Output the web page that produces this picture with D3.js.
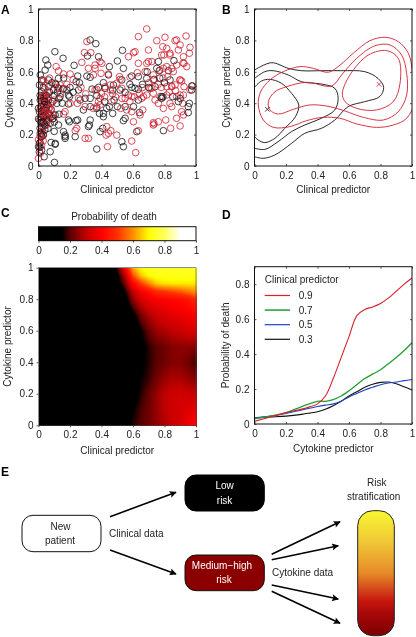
<!DOCTYPE html>
<html><head><meta charset="utf-8">
<script src="https://cdn.jsdelivr.net/npm/d3@7"></script>
<style>
html,body{margin:0;padding:0;background:#fff}
svg{display:block;filter:blur(0.3px)}
text{font-family:"Liberation Sans",Arial,sans-serif;font-size:10px;fill:#222}
.domain{display:none}
</style></head><body><svg id="c" width="416" height="637"></svg>
<script>
const tickVals=[0,0.2,0.4,0.6,0.8,1];
const tickValsD=[0,0.2,0.4,0.6,0.8];
const labelClinical="Clinical predictor", labelCytokine="Cytokine predictor", labelDeath="Probability of death";
const blackPts=[[.328,.803],[.364,.779],[.104,.728],[.156,.686],[.047,.675],[.059,.643],[.042,.611],[.381,.696],[.311,.701],[.533,.737],[.501,.669],[.226,.641],[.011,.58],[.021,.548],[.006,.516],[.063,.548],[.127,.558],[.249,.573],[.239,.537],[.307,.573],[.328,.565],[.45,.633],[.539,.622],[.412,.531],[.476,.516],[.444,.58],[.529,.548],[.592,.573],[.634,.569],[.687,.558],[.761,.665],[.751,.622],[.86,.671],[.767,.607],[.825,.607],[.835,.548],[.734,.552],[.74,.505],[.634,.488],[.592,.501],[.613,.495],[.471,.484],[.518,.484],[.423,.495],[.381,.501],[.18,.484],[.19,.452],[.197,.442],[.127,.495],[.137,.442],[.063,.505],[.095,.484],[.254,.484],[.328,.431],[.296,.431],[.264,.42],[.328,.378],[.285,.357],[.37,.367],[.387,.335],[.433,.367],[.471,.335],[.45,.378],[.501,.378],[.55,.378],[.603,.378],[.634,.42],[.641,.34],[.782,.431],[.782,.442],[.852,.442],[.888,.41],[.958,.399],[.973,.484],[.951,.378],[.973,.51],[.951,.34],[.19,.395],[.197,.282],[.19,.293],[.249,.293],[.239,.289],[.328,.293],[.323,.261],[.317,.251],[.55,.304],[.539,.289],[.412,.335],[.412,.314],[.408,.24],[.391,.219],[.37,.108],[.529,.155],[.539,.123],[.624,.219],[.793,.225],[.169,.197],[.169,.176],[.169,.187],[.233,.187],[.106,.144],[.106,.138],[.074,.091],[.036,.059],[.101,.023],[0,.123],[.006,.144],[.011,.208],[.021,.251],[.011,.293],[.015,.314],[.021,.346],[.032,.325],[.006,.346],[0,.367],[.042,.357],[.015,.272],[.021,.208],[.063,.335],[.074,.272],[.127,.261],[.106,.325],[.116,.399],[.063,.42],[.159,.219],[.032,.431],[.021,.473],[.011,.42],[.01,.15],[.02,.1],[.005,.09],[.03,.2],[.045,.32],[.03,.36],[.02,.33],[.05,.29],[.04,.26],[.08,.36],[.09,.3],[.1,.45],[.12,.47],[.03,.5],[.05,.45],[.01,.24],[0,.3],[.03,.31],[.015,.38],[.035,.39],[.1,.22],[.08,.15],[.01,.45],[.155,.49],[.085,.53],[.06,.39],[.05,.37],[.09,.41],[.13,.43],[.15,.4],[.07,.47],[.11,.52],[.16,.56],[.2,.5],[.22,.47],[.26,.53],[.34,.49],[.37,.45],[.42,.41],[.48,.42],[.55,.47],[.58,.52],[.66,.52],[.7,.5],[.77,.56],[.8,.53],[.9,.43],[.79,.44],[.69,.6],[.02,.28],[.04,.23],[.02,.19],[.01,.12],[.06,.24],[.1,.28],[.13,.33],[.04,.41],[.03,.28]];
const redPts=[[.687,.873],[.634,.824],[.937,.828],[.803,.82],[.751,.798],[.867,.798],[.307,.792],[.292,.722],[.332,.722],[.613,.728],[.603,.722],[.698,.739],[.899,.771],[.962,.756],[.958,.718],[.888,.739],[.571,.696],[.275,.66],[.789,.76],[.814,.749],[.835,.707],[.782,.707],[.698,.665],[.687,.654],[.719,.665],[.634,.654],[.391,.665],[.402,.654],[.359,.643],[.359,.622],[.112,.633],[.127,.605],[.159,.586],[.201,.586],[.317,.622],[.349,.58],[.397,.59],[.444,.586],[.514,.569],[.518,.552],[.581,.565],[.628,.594],[.677,.601],[.729,.58],[.793,.622],[.814,.633],[.846,.622],[.877,.643],[.92,.696],[.924,.654],[.941,.633],[.856,.601],[.899,.548],[.909,.541],[.867,.516],[.846,.505],[.814,.505],[.924,.505],[.979,.51],[.962,.484],[.92,.452],[.899,.452],[.877,.442],[.814,.452],[.772,.442],[.729,.463],[.719,.495],[.708,.495],[.687,.452],[.655,.431],[.666,.442],[.74,.42],[.761,.399],[.793,.367],[.835,.399],[.846,.378],[.915,.399],[.909,.346],[.877,.304],[.92,.325],[.899,.255],[.839,.24],[.808,.293],[.761,.282],[.729,.276],[.734,.268],[.729,.261],[.603,.282],[.662,.357],[.645,.325],[.592,.346],[.56,.357],[.522,.367],[.465,.41],[.391,.431],[.381,.41],[.391,.389],[.37,.378],[.349,.367],[.423,.505],[.359,.484],[.37,.488],[.455,.484],[.455,.516],[.497,.527],[.529,.495],[.571,.452],[.55,.431],[.592,.442],[.254,.431],[.247,.399],[.296,.378],[.433,.251],[.459,.225],[.444,.208],[.497,.197],[.429,.197],[.317,.176],[.296,.176],[.438,.123],[.592,.159],[.617,.085],[.634,.225],[.243,.24],[.233,.225],[.169,.346],[.159,.331],[.201,.399],[.095,.325],[.085,.314],[.074,.325],[.053,.314],[.032,.442],[.032,.42],[.021,.41],[.015,.431],[.042,.452],[.053,.431],[.074,.516],[.106,.527],[.021,.537],[.032,.548],[.137,.516],[.159,.495],[.021,.208],[.032,.197],[.021,.187],[0,.166],[.006,.123],[0,.049],[.011,.081],[.021,.282],[.053,.282],[.032,.378],[.021,.378],[.042,.399],[.063,.367],[.095,.304],[.03,.45],[.04,.42],[.02,.4],[.05,.4],[.06,.44],[.045,.34],[.06,.3],[.08,.36],[.01,.3],[.03,.25],[.015,.22],[.12,.5],[.07,.56],[.771,.611],[.729,.548],[.846,.51],[.898,.548],[.918,.656],[.796,.707],[.835,.718],[.877,.803],[.79,.56],[.82,.57],[.76,.52],[.78,.5],[.83,.47],[.87,.48],[.7,.53],[.66,.5],[.64,.46],[.61,.44],[.58,.41],[.53,.43],[.49,.44],[.47,.46],[.42,.44],[.4,.46],[.3,.46],[.27,.5],[.22,.55],[.18,.52],[.14,.46],[.1,.42],[.08,.4],[.07,.37],[.05,.36],[.04,.31],[.03,.33],[.02,.34],[.06,.47],[.04,.49],[.02,.44],[.01,.36],[.05,.26],[.03,.16],[.01,.19],[.02,.13]];
const redOuter=[[.024,.389],[.039,.473],[.098,.548],[.183,.601],[.289,.633],[.374,.622],[.469,.597],[.543,.643],[.627,.718],[.733,.798],[.829,.82],[.913,.792],[.977,.718],[1.004,.59],[1.02,.42],[.966,.304],[.881,.261],[.775,.246],[.649,.268],[.543,.304],[.437,.31],[.331,.289],[.225,.251],[.12,.246],[.056,.293]];
const redMiddle=[[.088,.41],[.13,.473],[.204,.505],[.331,.533],[.49,.51],[.553,.58],[.649,.686],[.765,.766],[.86,.771],[.934,.707],[.966,.59],[.966,.452],[.913,.346],[.818,.293],[.691,.31],[.575,.35],[.479,.378],[.352,.389],[.247,.361],[.151,.331],[.098,.357]];
const redInner=[[.558,.463],[.606,.58],[.723,.707],[.839,.735],[.913,.686],[.924,.527],[.881,.41],[.775,.357],[.649,.367],[.575,.41]];
const blackOuter=[[0,.611],[.108,.658],[.214,.622],[.298,.607],[.425,.607],[.552,.607],[.7,.601],[.784,.558],[.82,.501],[.795,.442],[.7,.41],[.594,.378],[.51,.293],[.425,.24],[.319,.208],[.235,.144],[.129,.07],[.055,.049],[0,.059]];
const blackMiddle=[[0,.558],[.066,.601],[.118,.607],[.214,.58],[.298,.537],[.425,.522],[.51,.495],[.531,.431],[.51,.357],[.425,.304],[.319,.261],[.235,.219],[.15,.155],[.066,.106],[0,.113]];
const blackInner=[[0,.501],[.044,.541],[.097,.552],[.171,.527],[.235,.463],[.281,.389],[.26,.314],[.192,.24],[.129,.176],[.066,.149],[.023,.166],[0,.187]];
const blackPeak=[.082,.361], redPeak=[.791,.52];
const heatX=[0,.45,.5,.55,.6,.65,.7,.75,.8,.85,.9,.95,1];
const heatY=[1,.95,.9,.85,.8,.7,.6,.5,.4,.3,.2,.1,0];
const heatP=[
[0,.05,.17,.38,.62,.7,.73,.74,.74,.74,.74,.74,.74],
[0,.02,.13,.28,.52,.64,.7,.72,.72,.72,.72,.72,.72],
[0,0,.1,.22,.4,.5,.58,.65,.67,.68,.68,.68,.68],
[0,0,.04,.15,.3,.38,.43,.48,.5,.52,.54,.57,.6],
[0,0,0,.1,.25,.33,.37,.39,.4,.41,.42,.44,.48],
[0,0,0,.05,.12,.22,.28,.32,.34,.36,.37,.38,.4],
[0,0,0,0,.06,.15,.21,.26,.28,.3,.31,.33,.34],
[0,0,0,0,.05,.13,.17,.2,.22,.24,.25,.25,.24],
[0,0,0,0,.05,.13,.17,.2,.22,.24,.24,.22,.18],
[0,0,0,0,.07,.15,.18,.22,.26,.28,.28,.26,.24],
[0,0,0,0,.1,.17,.21,.26,.3,.32,.33,.32,.31],
[0,0,0,.05,.15,.19,.22,.26,.3,.32,.33,.35,.37],
[0,0,0,.1,.17,.2,.22,.25,.28,.31,.34,.38,.41]];
const colorStops=[0,.15,.2,.3,.4,.5,.6,.7,.8,.9,1];
const colorVals=["#000","#000","#5a0000","#c00000","#ff0000","#ff3000","#ff9000","#ffff00","#ffff60","#ffffff","#ffffff"];
const cytoX=[0,.1,.2,.3,.35,.4,.45,.5,.55,.6,.65,.7,.75,.8,.85,.9,.95,1];
const curve09=[.015,.04,.065,.085,.098,.115,.16,.26,.38,.5,.62,.655,.67,.69,.72,.76,.8,.835];
const curve07=[.03,.045,.065,.1,.115,.13,.13,.14,.16,.19,.225,.26,.285,.31,.345,.38,.42,.465];
const curve05=[.035,.045,.06,.08,.09,.1,.108,.115,.13,.155,.175,.195,.21,.225,.235,.24,.248,.255];
const curve03=[.035,.04,.045,.055,.062,.07,.085,.105,.13,.16,.185,.21,.228,.238,.24,.23,.213,.195];
const legendVals=["0.9","0.7","0.5","0.3"];
const legendColors=["#d8202a","#20a030","#2040c8","#111"];
const curves=[curve09,curve07,curve05,curve03];

const svg=d3.select("#c");
const red="#d02030";
function panel(x0,x1,yTop,yBot,opt={}){
  const x=d3.scaleLinear().domain([0,1]).range([x0,x1]);
  const y=d3.scaleLinear().domain(opt.yd||[0,1]).range([yBot,yTop]);
  return {x,y,g:svg.append("g")};
}
function axes(p,o){
  const {x,y,g}=p, xv=o.xv||tickVals, yv=o.yv||tickVals;
  const [x0,x1]=x.range(),[yb,yt]=y.range();
  const s=o.out?2:-2;
  const ax=g.append("g").attr("transform",`translate(0,${yb})`).call(d3.axisBottom(x).tickValues(xv).tickSize(s).tickPadding(o.out?4:6).tickFormat(d=>d));
  const ay=g.append("g").attr("transform",`translate(${x0},0)`).call(d3.axisLeft(y).tickValues(yv).tickSize(s).tickPadding(o.out?3:5).tickFormat(d=>d));
  [ax,ay].forEach(a=>{a.selectAll("text").style("font-size","10px").style("fill","#222");a.selectAll("line").attr("stroke","#333").attr("stroke-width",.8);});
  if(!o.out){
    g.append("g").attr("transform",`translate(0,${yt})`).call(d3.axisTop(x).tickValues(xv).tickSize(-2).tickFormat("")).selectAll("line").attr("stroke","#333").attr("stroke-width",.8);
    g.append("g").attr("transform",`translate(${x1},0)`).call(d3.axisRight(y).tickValues(yv).tickSize(-2).tickFormat("")).selectAll("line").attr("stroke","#333").attr("stroke-width",.8);
  }
  g.append("rect").attr("x",x0).attr("y",yt).attr("width",x1-x0).attr("height",yb-yt).attr("fill","none").attr("stroke",o.frame||"#111").attr("stroke-width",o.fw||1);
  if(o.xl) g.append("text").attr("x",(x0+x1)/2).attr("y",o.xly).attr("text-anchor","middle").attr("dy",".35em").text(o.xl);
  if(o.yl) g.append("text").attr("transform",`translate(${o.ylx},${(yb+yt)/2}) rotate(-90)`).attr("text-anchor","middle").attr("dy",".35em").text(o.yl);
}
function letter(t,x,y){svg.append("text").attr("x",x).attr("y",y).style("font-size","12px").style("font-weight","bold").style("fill","#000").text(t);}

// A: the two groups are drawn interleaved, as the overlaps in the reference show
const A=panel(38.5,196,9,166);
const merged=[...blackPts.map((p,i)=>({p,c:"#111",k:i/blackPts.length})),...redPts.map((p,i)=>({p,c:red,k:(i+.5)/redPts.length}))].sort((a,b)=>a.k-b.k);
A.g.selectAll("circle").data(merged).join("circle").attr("cx",d=>A.x(d.p[0])).attr("cy",d=>A.y(d.p[1])).attr("r",3.3).attr("fill","none").attr("stroke",d=>d.c).attr("stroke-width",.8);
axes(A,{xl:labelClinical,xly:189,yl:labelCytokine,ylx:9});
letter("A",1,14);

// B
const B=panel(254.5,412,9,166);
svg.append("clipPath").attr("id","cb").append("rect").attr("x",254.5).attr("y",9).attr("width",157.5).attr("height",157);
const ln=d3.line().x(d=>B.x(d[0])).y(d=>B.y(d[1]));
const bg=B.g.append("g").attr("clip-path","url(#cb)");
[blackOuter,blackMiddle,blackInner].forEach(c=>bg.append("path").attr("d",ln.curve(d3.curveCatmullRom)(c)).attr("fill","none").attr("stroke","#111").attr("stroke-width",.9));
[redOuter,redMiddle,redInner].forEach(c=>bg.append("path").attr("d",ln.curve(d3.curveCatmullRomClosed)(c)).attr("fill","none").attr("stroke",red).attr("stroke-width",.9));
[[blackPeak,"#111"],[redPeak,red]].forEach(([p,col])=>{
  const px=B.x(p[0]),py=B.y(p[1]);
  [[-2.3,-2.3,2.3,2.3],[-2.3,2.3,2.3,-2.3]].forEach(s=>bg.append("line").attr("x1",px+s[0]).attr("y1",py+s[1]).attr("x2",px+s[2]).attr("y2",py+s[3]).attr("stroke",col).attr("stroke-width",.8));
});
axes(B,{xl:labelClinical,xly:189,yl:labelCytokine,ylx:226});
letter("B",222,14);

// C
const color=d3.scaleLinear().domain(colorStops).range(colorVals).clamp(true);
const cb=panel(38.5,196,226.7,240.7);
const barSteps=d3.range(0,1,1/158);
cb.g.append("g").attr("shape-rendering","crispEdges").selectAll("rect").data(barSteps).join("rect").attr("x",d=>cb.x(d)).attr("y",226.7).attr("width",1.6).attr("height",14).attr("fill",d=>color(d));
axes(cb,{out:true,yv:[]});
cb.g.append("text").attr("x",114).attr("y",216.7).attr("text-anchor","middle").attr("dy",".35em").text(labelDeath);
const C=panel(38.5,196,267.7,425.3);
function heatVal(xv,yv){
  const i=Math.min(d3.bisectRight(heatX,xv)-1,heatX.length-2);
  const jr=heatY.findIndex(v=>v<=yv);
  const j=Math.max(0,Math.min(jr<=0?0:jr-1,heatY.length-2));
  const tx=(xv-heatX[i])/(heatX[i+1]-heatX[i]), ty=(heatY[j]-yv)/(heatY[j]-heatY[j+1]);
  const a=heatP[j][i],b=heatP[j][i+1],c=heatP[j+1][i],d=heatP[j+1][i+1];
  return (a*(1-tx)+b*tx)*(1-ty)+(c*(1-tx)+d*tx)*ty;
}
const nCell=158, cells=d3.cross(d3.range(nCell),d3.range(nCell)).map(([i,j])=>({i,j,v:heatVal((i+.5)/nCell,(j+.5)/nCell)}));
const w=C.x(1/nCell)-C.x(0), h=C.y(0)-C.y(1/nCell);
C.g.append("g").attr("shape-rendering","crispEdges").selectAll("rect").data(cells).join("rect")
 .attr("x",d=>C.x(d.i/nCell)).attr("y",d=>C.y((d.j+1)/nCell)).attr("width",w+.6).attr("height",h+.6).attr("fill",d=>color(d.v));
axes(C,{out:true,xl:labelClinical,xly:450,yl:labelCytokine,ylx:7,frame:"#444",fw:.6});
letter("C",1,217);

// D
const D=panel(254.5,412,266.7,424,{yd:[0,.9]});
const lnD=d3.line().curve(d3.curveCatmullRom).x((d,i)=>D.x(cytoX[i])).y(d=>D.y(d));
[3,2,1,0].forEach(k=>D.g.append("path").attr("d",lnD(curves[k])).attr("fill","none").attr("stroke",legendColors[k]).attr("stroke-width",k==1?1.3:1.1));
axes(D,{yv:tickValsD,xl:labelCytokine,xly:448,yl:labelDeath,ylx:225});
D.g.append("text").attr("x",264.7).attr("y",279).attr("dy",".35em").text(labelClinical);
legendVals.forEach((t,i)=>{
  const yy=295.5+i*14.6;
  D.g.append("line").attr("x1",264.7).attr("x2",290).attr("y1",yy).attr("y2",yy).attr("stroke",legendColors[i]).attr("stroke-width",i==1?1.5:1.2);
  D.g.append("text").attr("x",298.7).attr("y",yy).attr("dy",".35em").text(t);
});
letter("D",222,219);

// E
letter("E",1,476);
const E=svg.append("g");
const grad=svg.append("defs").append("linearGradient").attr("id","risk").attr("x1",0).attr("x2",0).attr("y1",0).attr("y2",1);
[[0,"#f8f830"],[.25,"#f0c838"],[.5,"#e68a28"],[.72,"#c81810"],[.82,"#a80808"],[1,"#7a0000"]].forEach(([o,c])=>grad.append("stop").attr("offset",o).attr("stop-color",c));
const mk=svg.select("defs").append("marker").attr("id","ah").attr("viewBox","0 0 10 10").attr("refX",9).attr("refY",5).attr("markerWidth",9).attr("markerHeight",7).attr("orient","auto").attr("markerUnits","userSpaceOnUse");
mk.append("path").attr("d","M0,0L10,5L0,10L2,5Z").attr("fill","#000");
const boxes=[[22,515.3,79,36.4,"#fff","#111",1],[185,475,79.3,36,"#000","#000",1],[185,555,79.3,35.7,"#8b0000","#111",1],[357.7,510.7,36.6,125,"url(#risk)","#222",1]];
boxes.forEach(([x,y,wd,ht,f,s,sw],i)=>E.append("rect").attr("x",x).attr("y",y).attr("width",wd).attr("height",ht).attr("rx",i==3?15:11).attr("fill",f).attr("stroke",s).attr("stroke-width",sw));
const arrows=[[110,516.7,176,492.3],[110,550,176,574],[271.7,554.3,340,521.7],[271.7,559.7,338.3,545.7],[271.7,585,338.3,599],[271.7,591.3,340,623.3]];
arrows.forEach(a=>E.append("line").attr("x1",a[0]).attr("y1",a[1]).attr("x2",a[2]).attr("y2",a[3]).attr("stroke","#000").attr("stroke-width",1.6).attr("marker-end","url(#ah)"));
const labels=[["New",60.5,526,"middle"],["patient",60,540.7,"middle"],["Low",224.6,485.7,"middle","#fff"],["risk",224.6,500,"middle","#fff"],["Clinical data",109,533,"start"],["Medium\u2212high",222,565,"middle","#fff"],["risk",224,579,"middle","#fff"],["Cytokine data",272,572,"start"],["Risk",376.7,482,"middle"],["stratification",373.7,496.7,"middle"]];
labels.forEach(([t,x,y,a,c])=>E.append("text").attr("x",x).attr("y",y).attr("dy",".35em").attr("text-anchor",a).style("fill",c||"#222").text(t));
</script></body></html>
